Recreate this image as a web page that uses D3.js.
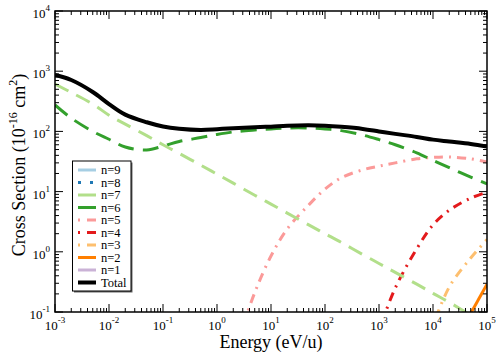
<!DOCTYPE html>
<html><head><meta charset="utf-8">
<script src="https://cdn.jsdelivr.net/npm/d3@7"></script>
<style>body{margin:0;background:#fff}svg{display:block}</style>
</head><body>
<svg id="c" width="498" height="359"></svg>
<script>
// ---- data ----
const energy = [1e-3,2e-3,5e-3,1e-2,2e-2,5e-2,0.1,0.2,0.5,1,2,5,10,20,50,100,200,500,1e3,2e3,5e3,1e4,2e4,5e4,1e5];
const total = [865,714,452,285,190,142,121,111,106,109,113,117,120,124,126,124,119,110,100,91,81,73,68,62,56];
const n7 = [612,443,285,186,132,85,60,43,27.5,19.5,13.8,8.7,6.2,4.4,2.8,2.0,1.43,0.90,0.64,0.455,0.29,0.204,0.145,0.089,0.063];
const n6 = [275,166,100,74,55,49,57,68,79,89,98,105.5,110,114,114,110,103,87,73,60,44,33,25,17.4,13.4];
const n5 = [null,null,null,null,null,null,null,null,null,null,0.02,0.21,0.85,2.4,6.0,11,17,23,26.5,30,35,37,37.6,35,31];
const n4 = [null,null,null,null,null,null,null,null,null,null,null,null,null,null,null,null,null,null,0.05,0.25,1.12,2.8,4.9,7.8,9.8];
const n3 = [null,null,null,null,null,null,null,null,null,null,null,null,null,null,null,null,null,null,null,null,null,0.06,0.26,0.79,1.6];
const n2 = [null,null,null,null,null,null,null,null,null,null,null,null,null,null,null,null,null,null,null,null,null,null,null,0.095,0.29];
const n8 = [];
const n9 = [];
const n1 = [];
const legendLabels = ["n=9","n=8","n=7","n=6","n=5","n=4","n=3","n=2","n=1","Total"];
const xTicks = [1e-3,1e-2,1e-1,1,10,100,1e3,1e4,1e5];
const yTicks = [1e-1,1,10,100,1e3,1e4];

const series = [
  {vals:n9, color:"#a6cee3", w:3, dash:null, ldash:null},
  {vals:n8, color:"#1f78b4", w:3, dash:"3,9", ldash:"3,9"},
  {vals:n7, color:"#b2df8a", w:3, dash:"15,9", ldash:null},
  {vals:n6, color:"#33a02c", w:3, dash:"16,9", ldash:null},
  {vals:n5, color:"#fb9a99", w:3, dash:"2,6,9,6", ldash:"2,7,9,7"},
  {vals:n4, color:"#e31a1c", w:3, dash:"2,6,9,6", ldash:"2,7,9,7"},
  {vals:n3, color:"#fdbf6f", w:3, dash:"2,6,9,6", ldash:"2,7,9,7"},
  {vals:n2, color:"#ff7f00", w:3, dash:null, ldash:null},
  {vals:n1, color:"#cab2d6", w:3, dash:null, ldash:null},
  {vals:total, color:"#000000", w:4, dash:null, ldash:null}
];

const FONT='"Liberation Serif"';
const L=55,R=487,T=11,B=312;
const svg=d3.select("#c");
const x=d3.scaleLog().domain([1e-3,1e5]).range([L,R]);
const y=d3.scaleLog().domain([0.1,1e4]).range([B,T]);

svg.append("defs").append("clipPath").attr("id","clip")
  .append("rect").attr("x",L).attr("y",T).attr("width",R-L).attr("height",B-T);

const line=d3.line().defined(d=>d[1]!=null).x(d=>x(d[0])).y(d=>y(d[1])).curve(d3.curveCatmullRom.alpha(0.5));
const g=svg.append("g").attr("clip-path","url(#clip)");
[...series.slice(0,9).reverse(), series[9]].forEach(s=>{
  if(!s.vals.length) return;
  const pts=energy.map((e,i)=>[e,s.vals[i]]);
  g.append("path").attr("d",line(pts)).attr("fill","none")
    .attr("stroke",s.color).attr("stroke-width",s.w)
    .attr("stroke-dasharray",s.dash);
});

// ticks
const minorX=[],minorY=[];
for(let p=-3;p<5;p++) for(let k=2;k<10;k++) minorX.push(k*Math.pow(10,p));
for(let p=-1;p<4;p++) for(let k=2;k<10;k++) minorY.push(k*Math.pow(10,p));
const axisG=svg.append("g").attr("stroke","#000").attr("stroke-width",1);
function tick(x1,y1,x2,y2){axisG.append("line").attr("x1",x1).attr("y1",y1).attr("x2",x2).attr("y2",y2);}
xTicks.forEach(v=>{const px=x(v);tick(px,B,px,B-8);tick(px,T,px,T+8);});
minorX.forEach(v=>{const px=x(v);tick(px,B,px,B-4);tick(px,T,px,T+4);});
yTicks.forEach(v=>{const py=y(v);tick(L,py,L+8,py);tick(R,py,R-8,py);});
minorY.forEach(v=>{const py=y(v);tick(L,py,L+4,py);tick(R,py,R-4,py);});
svg.append("rect").attr("x",L).attr("y",T).attr("width",R-L).attr("height",B-T)
  .attr("fill","none").attr("stroke","#000").attr("stroke-width",1.5);

function txt(){return svg.append("text").style("font-family",FONT);}
// tick labels
xTicks.forEach(v=>{
  const e=Math.round(Math.log10(v));
  const t=txt().attr("x",x(v)).attr("y",330).attr("text-anchor","middle").attr("font-size",13);
  t.append("tspan").text("10");
  t.append("tspan").attr("dy",-7).attr("font-size",9).text(e);
});
yTicks.forEach(v=>{
  const e=Math.round(Math.log10(v));
  const t=txt().attr("x",50).attr("y",y(v)+7).attr("text-anchor","end").attr("font-size",13);
  t.append("tspan").text("10");
  t.append("tspan").attr("dy",-7).attr("font-size",9).text(e);
});

// axis titles
txt().attr("x",(L+R)/2).attr("y",348).attr("text-anchor","middle")
  .attr("font-size",18).text("Energy (eV/u)");
const yt=txt().attr("transform","translate(25,165) rotate(-90)")
  .attr("text-anchor","middle").attr("font-size",18);
yt.append("tspan").text("Cross Section (10");
yt.append("tspan").attr("dy",-8).attr("font-size",12).text("-16");
yt.append("tspan").attr("dy",8).text(" cm");
yt.append("tspan").attr("dy",-8).attr("font-size",12).text("2");
yt.append("tspan").attr("dy",8).text(")");

// legend
const lx=72.5,ly=161,lw=58.5,lh=130;
svg.append("rect").attr("x",lx+1.5).attr("y",ly+1.5).attr("width",lw).attr("height",lh).attr("fill","#666");
svg.append("rect").attr("x",lx).attr("y",ly).attr("width",lw).attr("height",lh).attr("fill","#fff").attr("stroke","#000").attr("stroke-width",1);
series.forEach((s,i)=>{
  const yy=170+i*12.5;
  svg.append("line").attr("x1",78).attr("x2",96).attr("y1",yy).attr("y2",yy)
    .attr("stroke",s.color).attr("stroke-width",s.w).attr("stroke-dasharray",s.ldash);
  txt().attr("x",101).attr("y",yy+4).attr("font-size",12.5).text(legendLabels[i]);
});
</script>
</body></html>
